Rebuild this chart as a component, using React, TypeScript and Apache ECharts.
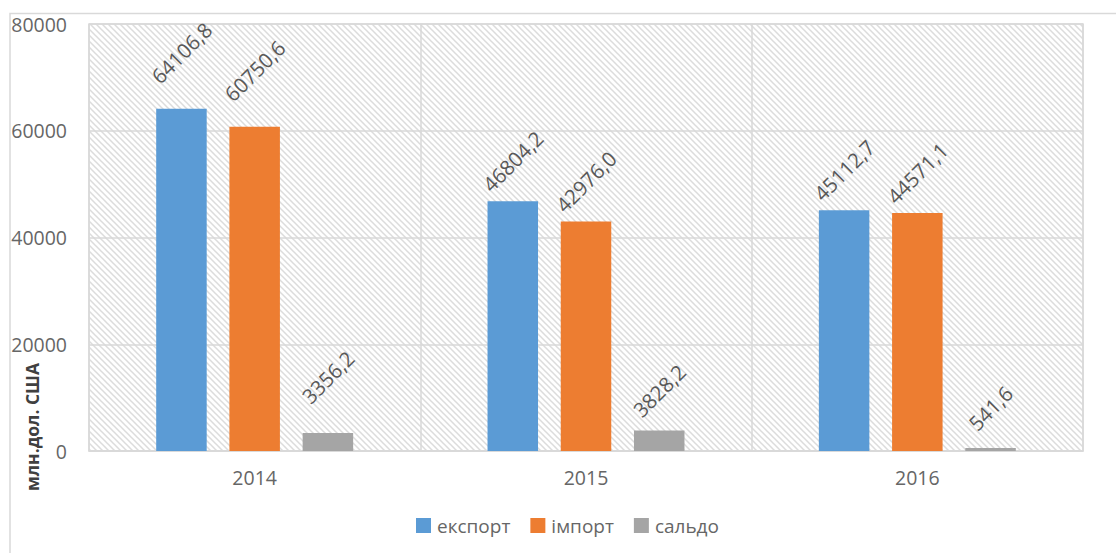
import React, { useEffect, useRef } from "react";
import * as echarts from "echarts";

const categories = ["2014", "2015", "2016"];
const seriesNames = ["експорт", "імпорт", "сальдо"];
const exportValues = [64106.8, 46804.2, 45112.7];
const importValues = [60750.6, 42976.0, 44571.1];
const balanceValues = [3356.2, 3828.2, 541.6];
const yMin = 0;
const yMax = 80000;
const yInterval = 20000;
const yAxisTitle = "млн.дол. США";

const COLORS = ["#5B9BD5", "#ED7D31", "#A5A5A5"];
const FONT = "'Open Sans', 'Noto Sans', sans-serif";
// label lift (px above bar top) per category
const LABEL_LIFT = [56, 40, 40];

function fmt(v: number): string {
  return v.toFixed(1).replace(".", ",");
}

function makeHatch(): HTMLCanvasElement {
  const s = 6;
  const c = document.createElement("canvas");
  c.width = s;
  c.height = s;
  const ctx = c.getContext("2d")!;
  ctx.fillStyle = "#ffffff";
  ctx.fillRect(0, 0, s, s);
  ctx.strokeStyle = "#dcdcdc";
  ctx.lineWidth = 1.5;
  ctx.beginPath();
  ctx.moveTo(-1, -1);
  ctx.lineTo(s + 1, s + 1);
  ctx.moveTo(-1, s - 1);
  ctx.lineTo(1, s + 1);
  ctx.moveTo(s - 1, -1);
  ctx.lineTo(s + 1, 1);
  ctx.stroke();
  return c;
}

export default function App() {
  const ref = useRef<HTMLDivElement>(null);

  useEffect(() => {
    if (!ref.current) return;
    const chart = echarts.init(ref.current, undefined, { renderer: "svg" });
    const hatch = makeHatch();
    const allValues = [exportValues, importValues, balanceValues];

    const series = allValues.map((vals, si) => ({
      name: seriesNames[si],
      type: "bar",
      barWidth: 50.5,
      barGap: "45%",
      itemStyle: { color: COLORS[si] },
      data: vals.map((v, ci) => ({
        value: v,
        label: { distance: LABEL_LIFT[ci] },
      })),
      label: {
        show: true,
        position: "top",
        rotate: 45,
        align: "center",
        verticalAlign: "middle",
        formatter: (p: any) => fmt(p.value),
        color: "#595959",
        fontSize: 20.5,
        fontFamily: FONT,
      },
    }));

    chart.setOption({
      animation: false,
      backgroundColor: "#ffffff",
      textStyle: { fontFamily: FONT },
      grid: {
        left: 89,
        top: 24,
        right: 33,
        bottom: 102,
        show: true,
        backgroundColor: {
          image: hatch,
          repeat: "repeat",
          imageWidth: 6,
          imageHeight: 6,
        } as any,
        borderColor: "#d9d9d9",
        borderWidth: 1.5,
      },
      legend: {
        left: 416,
        top: 516,
        padding: 0,
        icon: "rect",
        itemWidth: 15,
        itemHeight: 15,
        itemGap: 20,
        textStyle: { color: "#666666", fontSize: 19, fontFamily: FONT, padding: [0, 0, 0, 1] },
        data: seriesNames,
      },
      xAxis: {
        type: "category",
        data: categories,
        axisLine: { show: true, lineStyle: { color: "#d9d9d9", width: 1.5 } },
        axisTick: { show: false },
        axisLabel: { color: "#666666", fontSize: 19.5, fontFamily: FONT, margin: 16 },
        splitLine: { show: true, interval: 0, lineStyle: { color: "#d9d9d9", width: 1.5 } },
      },
      yAxis: {
        type: "value",
        min: yMin,
        max: yMax,
        interval: yInterval,
        axisLine: { show: false },
        axisTick: { show: false },
        axisLabel: {
          color: "#666666",
          fontSize: 19.5,
          fontFamily: FONT,
          margin: 22,
          formatter: (v: number) => String(v),
        },
        splitLine: { show: true, lineStyle: { color: "#d9d9d9", width: 1.5 } },
      },
      graphic: [
        {
          type: "rect",
          left: 7.5,
          top: 11,
          shape: { x: 0, y: 0, width: 1200, height: 600 },
          style: { fill: "none", stroke: "#d9d9d9", lineWidth: 1.5 },
          silent: true,
          z: -10,
        },
        {
          type: "text",
          x: 32,
          y: 427,
          rotation: Math.PI / 2,
          style: {
            text: yAxisTitle,
            fill: "#404040",
            font: `bold 17.5px ${FONT}`,
            align: "center",
            verticalAlign: "middle",
          },
        },
      ],
      series,
    });

    return () => chart.dispose();
  }, []);

  return (
    <div
      ref={ref}
      style={{ position: "absolute", left: 0, top: 0, width: 1116, height: 553 }}
    />
  );
}
